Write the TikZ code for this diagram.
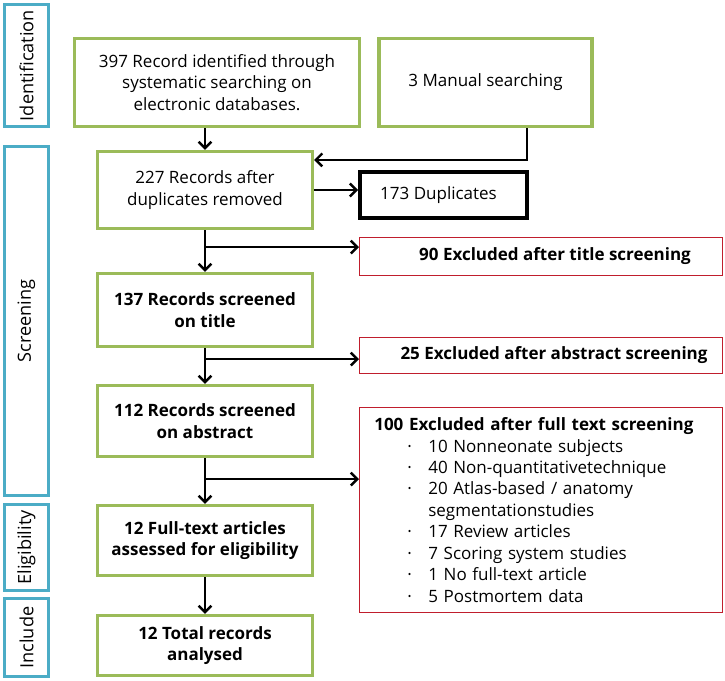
\documentclass[tikz,border=0pt]{standalone}
\usepackage{fontspec}
\setmainfont{Open Sans}
\usepackage{tikz}
\usetikzlibrary{calc}
\usetikzlibrary{arrows.meta}
\definecolor{stageblue}{RGB}{75,172,198}
\definecolor{flowgreen}{RGB}{155,187,89}
\definecolor{exclred}{RGB}{192,30,45}

\begin{document}
\fontsize{14.5}{18.3}\selectfont
\begin{tikzpicture}[x=0.03cm,y=-0.03cm,
		stage/.style={draw=stageblue,line width=2.5pt,rotate=90,minimum height=1.32cm,inner sep=0pt,font=\fontsize{15.5}{18}\selectfont},
		flow/.style={draw=flowgreen,line width=3pt,align=center,inner sep=2pt,minimum width=6.44cm},
		excl/.style={draw=exclred,line width=1.1pt,minimum width=10.88cm,font=\bfseries},
		arr/.style={line width=2.1pt,-{Straight Barb[length=5.5pt,width=11pt]}}]
		\useasboundingbox (0,0) rectangle (725,681);
%		stages on the left
		\node[stage,minimum width=3.66cm] (ident) at (26.5,65.5) {Identification};
		\node[stage,minimum width=10.47cm] (screen) at (26.5,321) {Screening};
		\node[stage,minimum width=2.58cm] (elig) at (26.5,547.5) {Eligibility};
		\node[stage,minimum width=2.34cm] (incl) at (26.5,637.5) {Include};
		
%		records
		\node[flow,minimum width=8.55cm,minimum height=2.63cm] (a) at (217,82.5)
		{397 Record identified through\\systematic searching on\\electronic databases.};
		\node[flow,minimum width=6.4cm,minimum height=2.63cm] (b) at (485.5,82.5)
		{3 Manual searching};
		\node[flow,minimum height=2.3cm] (c) at (205,190)
		{227 Records after\\duplicates removed};
		\node[flow,minimum height=2.18cm,font=\bfseries] (d) at (205,310)
		{137 Records screened\\on title};
		\node[flow,minimum height=2.12cm,font=\bfseries] (e) at (205,421)
		{112 Records screened\\on abstract};
		\node[flow,minimum height=2.09cm,font=\bfseries] (f) at (205,540.5)
		{12 Full-text articles\\assessed for eligibility};
		\node[flow,minimum height=1.79cm,font=\bfseries] (g) at (205,645.5)
		{12 Total records\\analysed};
		
%		excluded
		\node[draw,line width=3.4pt,minimum width=5.01cm,minimum height=1.38cm] (dup) at (443.5,195)
		{173 Duplicates\hspace*{0.3cm}};
		\node[excl,minimum height=1.13cm] (r1) at (541,256.5)
		{\hspace*{0.84cm}90 Excluded after title screening};
		\node[excl,minimum height=1.07cm] (r2) at (541,355.5)
		{\hspace*{0.78cm}25 Excluded after abstract screening};
		\node[excl,minimum height=6.14cm,font=\mdseries,align=left,text width=10cm,inner xsep=0.42cm] (r3) at (541,510)
		{\textbf{100 Excluded after full text screening}\\
		\hspace*{0.99cm}\makebox[0.63cm][l]{·}10 Nonneonate subjects\\
		\hspace*{0.99cm}\makebox[0.63cm][l]{·}40 Non-quantitativetechnique\\
		\hspace*{0.99cm}\makebox[0.63cm][l]{·}20 Atlas-based / anatomy\\
		\hspace*{1.62cm}segmentationstudies\\
		\hspace*{0.99cm}\makebox[0.63cm][l]{·}17 Review articles\\
		\hspace*{0.99cm}\makebox[0.63cm][l]{·}7 Scoring system studies\\
		\hspace*{0.99cm}\makebox[0.63cm][l]{·}1 No full-text article\\
		\hspace*{0.99cm}\makebox[0.63cm][l]{·}5 Postmortem data};
		
%		arrows
		\coordinate (cd) at ($(c.south)+(0,17)$);
		\coordinate (de) at ($(d.south)+(0,11)$);
		\coordinate (ef) at ($(e.south)+(0,21)$);
		\draw[arr] (a.south -| c.north) -- (c.north);
		\draw[arr] ($(b.south east)+(-67,0)$) |- ($(c.north east)+(0,10)$);
		\draw[arr] (c.east) -- (c.east -| dup.west);
		\draw[arr] (c.south) -- (d.north);
		\draw[arr] (cd) -- (cd -| r1.west);
		\draw[arr] (d.south) -- (e.north);
		\draw[arr] (de) -- (de -| r2.west);
		\draw[arr] (e.south) -- (f.north);
		\draw[arr] (ef) -- (ef -| r3.west);
		\draw[arr] (f.south) -- (g.north);
	\end{tikzpicture}
\end{document}
